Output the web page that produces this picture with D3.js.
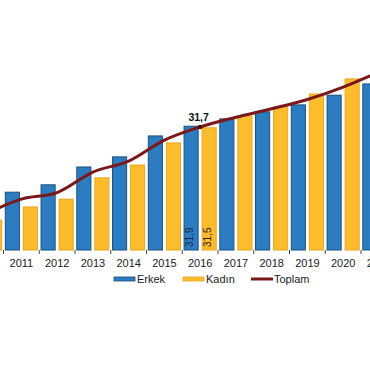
<!DOCTYPE html>
<html>
<head>
<meta charset="utf-8">
<script src="https://cdn.jsdelivr.net/npm/d3@7"></script>
<style>
  body { margin: 0; background: #fff; }
  svg { display: block; font-family: "Liberation Sans", Arial, sans-serif; }
</style>
</head>
<body>
<div id="chart"></div>
<script>
let years = ["2010", "2011", "2012", "2013", "2014", "2015", "2016", "2017", "2018", "2019", "2020", "2021"];
let erkek = [10.9, 14.9, 16.8, 21.4, 24.0, 29.4, 31.9, 33.8, 35.6, 37.4, 39.9, 42.8];
let kadin = [7.7, 11.1, 13.1, 18.6, 21.9, 27.6, 31.5, 34.5, 36.9, 40.2, 44.1, 49.0];
let toplam = [9.3, 13.1, 14.8, 20.1, 22.9, 28.3, 31.7, 34.2, 36.4, 38.8, 42.0, 45.9];
let seriesNames = ["Erkek", "Kadın", "Toplam"];

let width = 370,
  height = 380,
  baseY = 250;

let svg = d3
  .select("#chart")
  .append("svg")
  .attr("width", width)
  .attr("height", height);

// the picture is a crop: 2010 and 2021 run off the edges
let x = d3.scaleBand().domain(years).range([-32.25, 396.75]).padding(0);
let xInner = d3
  .scaleBand()
  .domain(["Erkek", "Kadın"])
  .range([0, x.bandwidth()])
  .paddingInner(0.22)
  .paddingOuter(0.1);
let y = d3.scaleLinear().domain([0, 60]).range([baseY, baseY - 3.88 * 60]);

let colors = { Erkek: "#2b7cc1", Kadın: "#fcbc2c", Toplam: "#7b1619" };
let strokes = { Erkek: "#1d4f7c", Kadın: "#e7a822" };

let bars = [];
years.forEach((yr, i) => {
  bars.push({ year: yr, s: "Erkek", v: erkek[i] });
  bars.push({ year: yr, s: "Kadın", v: kadin[i] });
});

svg
  .append("g")
  .selectAll("rect")
  .data(bars)
  .join("rect")
  .attr("x", (d) => x(d.year) + xInner(d.s))
  .attr("y", (d) => y(d.v))
  .attr("width", xInner.bandwidth())
  .attr("height", (d) => baseY - y(d.v))
  .attr("fill", (d) => colors[d.s])
  .attr("stroke", (d) => strokes[d.s])
  .attr("stroke-width", 1);

// axis: ticks between categories, labels centered
let axis = d3.axisBottom(x).tickSize(0).tickPadding(9);
let gx = svg.append("g").attr("transform", `translate(0,${baseY})`).call(axis);
gx.select(".domain").remove();
gx.selectAll("text").attr("font-size", 11).attr("fill", "#222").attr("font-family", "Liberation Sans, Arial, sans-serif");

svg
  .append("g")
  .selectAll("line")
  .data(years)
  .join("line")
  .attr("x1", (d) => x(d))
  .attr("x2", (d) => x(d))
  .attr("y1", baseY)
  .attr("y2", baseY + 4)
  .attr("stroke", "#444")
  .attr("stroke-width", 1);

// total line
let line = d3
  .line()
  .x((d, i) => x(years[i]) + x.bandwidth() / 2)
  .y((d) => y(d))
  .curve(d3.curveMonotoneX);

svg
  .append("path")
  .datum(toplam)
  .attr("d", line)
  .attr("fill", "none")
  .attr("stroke", colors.Toplam)
  .attr("stroke-width", 3);

// labels for 2016
let i16 = years.indexOf("2016");
let cx16 = x("2016") + x.bandwidth() / 2;

svg
  .append("circle")
  .attr("cx", cx16)
  .attr("cy", y(toplam[i16]))
  .attr("r", 2.2)
  .attr("fill", "#4a0d0f");

svg
  .append("text")
  .attr("x", cx16 - 1.5)
  .attr("y", y(toplam[i16]) - 6)
  .attr("text-anchor", "middle")
  .attr("font-size", 10.5)
  .attr("font-weight", "bold")
  .attr("fill", "#111")
  .text("31,7");

[
  { s: "Erkek", v: erkek[i16], c: "#14284a" },
  { s: "Kadın", v: kadin[i16], c: "#2a2416" },
].forEach((d) => {
  let bx = x("2016") + xInner(d.s) + xInner.bandwidth() / 2 + 1.5;
  svg
    .append("text")
    .attr("transform", `translate(${bx},${baseY - 3}) rotate(-90)`)
    .attr("font-size", 10)
    .attr("fill", d.c)
    .text(d3.format(".1f")(d.v).replace(".", ","));
});

// legend
let legend = [
  { name: seriesNames[0], x: 114 },
  { name: seriesNames[1], x: 183 },
  { name: seriesNames[2], x: 251 },
];
legend.forEach((l) => {
  if (l.name === "Toplam") {
    svg
      .append("line")
      .attr("x1", l.x)
      .attr("x2", l.x + 22)
      .attr("y1", 279)
      .attr("y2", 279)
      .attr("stroke", colors.Toplam)
      .attr("stroke-width", 3);
  } else {
    svg
      .append("rect")
      .attr("x", l.x)
      .attr("y", 277)
      .attr("width", 21)
      .attr("height", 4)
      .attr("fill", colors[l.name])
      .attr("stroke", strokes[l.name])
      .attr("stroke-width", 0.8);
  }
  svg
    .append("text")
    .attr("x", l.x + 23)
    .attr("y", 283)
    .attr("font-size", 11)
    .attr("fill", "#222")
    .text(l.name);
});
</script>
</body>
</html>
